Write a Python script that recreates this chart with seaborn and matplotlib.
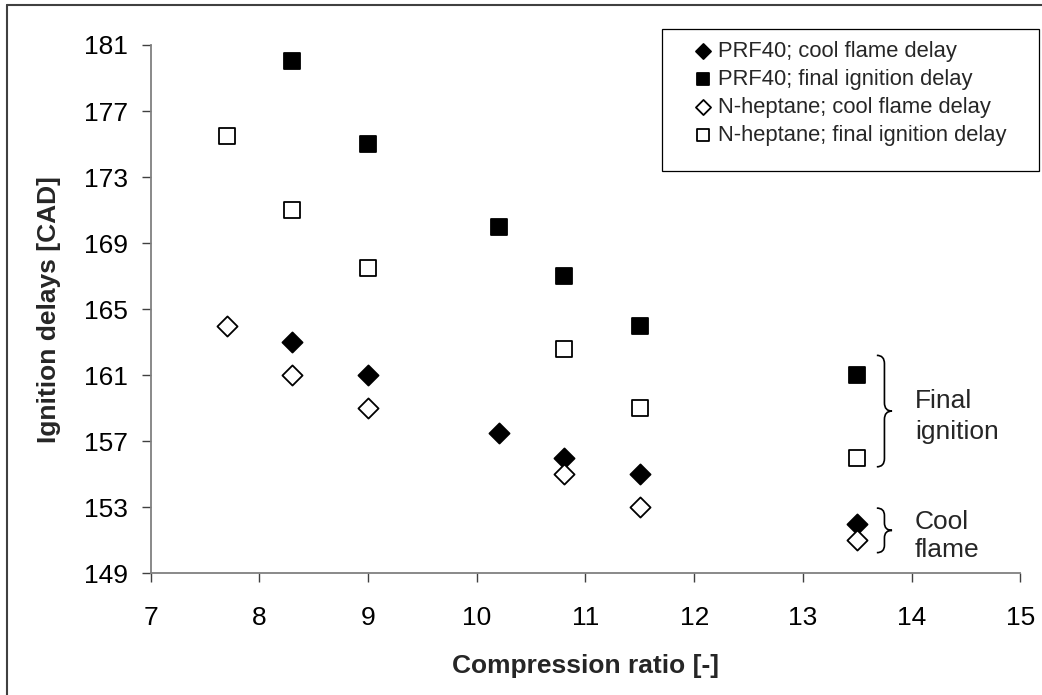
import matplotlib
matplotlib.use("Agg")
import matplotlib.pyplot as plt
from matplotlib.path import Path
from matplotlib.patches import PathPatch, Rectangle
from matplotlib.lines import Line2D
import seaborn as sns
import pandas as pd

# Compression ratios
cr_prf40 = [8.3, 9.0, 10.2, 10.8, 11.5, 13.5]
cr_heptane = [7.7, 8.3, 9.0, 10.8, 11.5, 13.5]

# Ignition delays [CAD]
prf40_cool = [163.0, 161.0, 157.5, 156.0, 155.0, 152.0]
prf40_final = [180.0, 175.0, 170.0, 167.0, 164.0, 161.0]
heptane_cool = [164.0, 161.0, 159.0, 155.0, 153.0, 151.0]
heptane_final = [175.5, 171.0, 167.5, 162.6, 159.0, 156.0]

series_labels = [
    "PRF40; cool flame delay",
    "PRF40; final ignition delay",
    "N-heptane; cool flame delay",
    "N-heptane; final ignition delay",
]
x_ticks = [7, 8, 9, 10, 11, 12, 13, 14, 15]
y_ticks = [149, 153, 157, 161, 165, 169, 173, 177, 181]

sns.set_theme(style="white")
plt.rcParams["font.family"] = ["Liberation Sans", "DejaVu Sans"]

W, H = 1042, 695
fig = plt.figure(figsize=(W / 100, H / 100), dpi=100)
ax = fig.add_axes([0.1446, 0.1751, 0.9792 - 0.1446, 0.9353 - 0.1751])

series = [
    (cr_prf40, prf40_cool, "D", "black", 105),
    (cr_prf40, prf40_final, "s", "black", 125),
    (cr_heptane, heptane_cool, "D", "white", 105),
    (cr_heptane, heptane_final, "s", "white", 125),
]
for (xs, ys, mk, fc, sz), lab in zip(series, series_labels):
    df = pd.DataFrame({"cr": xs, "delay": ys})
    sns.scatterplot(data=df, x="cr", y="delay", ax=ax, marker=mk, s=sz,
                    color=fc, edgecolor="black", linewidth=1.3, label=lab,
                    zorder=3)

ax.set_xlim(7, 15)
ax.set_ylim(149, 181)
ax.set_xticks(x_ticks)
ax.set_yticks(y_ticks)
ax.tick_params(axis="both", labelsize=19, colors="#404040", labelcolor="black",
               direction="out", length=6.5, width=1.0)
ax.tick_params(axis="x", bottom=True, pad=17)
ax.tick_params(axis="y", left=True, pad=10)
for side in ("top", "right"):
    ax.spines[side].set_visible(False)
for side in ("left", "bottom"):
    ax.spines[side].set_color("#808080")
    ax.spines[side].set_linewidth(1.3)

ax.set_xlabel("Compression ratio [-]", fontsize=19, fontweight="bold", labelpad=17)
ax.set_ylabel("Ignition delays [CAD]", fontsize=19, fontweight="bold", labelpad=16)

# Legend: entries without a frame, boxed by a separate rectangle
leg = ax.legend(loc="upper left", bbox_to_anchor=(696 / W, 1 - 41 / H),
                bbox_transform=fig.transFigure,
                fontsize=15.8, frameon=False, handlelength=0.6,
                handletextpad=0.4, borderpad=0, labelspacing=0.32,
                borderaxespad=0, markerscale=0.75)
fig.add_artist(Rectangle((662 / W, 1 - 171 / H), 377 / W, 142 / H,
                         transform=fig.transFigure, facecolor="none",
                         edgecolor="black", linewidth=0.9))


def brace(ax, x0, x1, y_top, y_bot, r):
    """Right-facing curly brace spanning y_top..y_bot."""
    xm = (x0 + x1) / 2
    ymid = (y_top + y_bot) / 2
    verts = [
        (x0, y_top), (xm, y_top), (xm, y_top - r),
        (xm, ymid + r),
        (xm, ymid), (x1, ymid),
        (xm, ymid), (xm, ymid - r),
        (xm, y_bot + r),
        (xm, y_bot), (x0, y_bot),
    ]
    codes = [
        Path.MOVETO, Path.CURVE3, Path.CURVE3,
        Path.LINETO,
        Path.CURVE3, Path.CURVE3,
        Path.CURVE3, Path.CURVE3,
        Path.LINETO,
        Path.CURVE3, Path.CURVE3,
    ]
    ax.add_patch(PathPatch(Path(verts, codes), facecolor="none",
                           edgecolor="black", linewidth=1.2, clip_on=False))


brace(ax, 13.68, 13.82, 162.2, 155.45, 0.5)
brace(ax, 13.68, 13.82, 152.95, 150.25, 0.45)
ax.text(14.03, 158.5, "Final\nignition", fontsize=19, va="center", ha="left",
        linespacing=1.35)
ax.text(14.03, 151.25, "Cool\nflame", fontsize=19, va="center", ha="left",
        linespacing=1.2)

# Chart-area frame (top and left edges)
fig.add_artist(Line2D([7 / W, 1.0], [1 - 5 / H, 1 - 5 / H],
                      transform=fig.transFigure, color="#404040", linewidth=1.5))
fig.add_artist(Line2D([7 / W, 7 / W], [0.0, 1 - 5 / H],
                      transform=fig.transFigure, color="#404040", linewidth=1.5))

fig.savefig("out.png", dpi=100, facecolor="white")
